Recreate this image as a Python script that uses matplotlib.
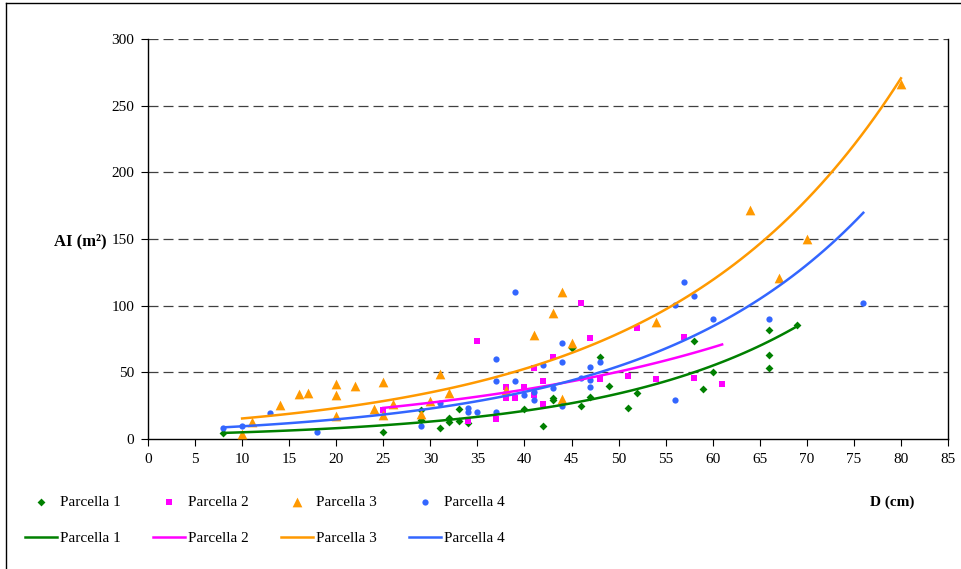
import matplotlib
matplotlib.use("Agg")
import matplotlib.pyplot as plt
import numpy as np
from matplotlib.lines import Line2D

plt.rcParams['font.family'] = ['Liberation Serif', 'DejaVu Serif']

# Parcella 1 (D cm, AI m2)
d1 = [8, 25, 29, 29, 31, 32, 32, 33, 33, 34, 40, 42, 43, 43, 45, 46, 47, 48, 49, 51, 52, 58, 59, 60, 66, 66, 66, 69]
ai1 = [4.7, 5.5, 22, 14, 8.5, 16, 12.5, 22.5, 13.3, 12.2, 22.7, 9.7, 30.5, 29, 68, 24.7, 31.3, 61.7, 40, 23, 34.2, 73.5, 37.2, 50.5, 81.7, 63, 53.5, 85.5]

# Parcella 2
d2 = [25, 34, 35, 37, 38, 38, 39, 40, 41, 41, 42, 42, 43, 46, 47, 48, 51, 52, 54, 57, 58, 61]
ai2 = [21.7, 13.7, 73.7, 14.7, 39.2, 31, 31, 39.2, 33, 53, 43.5, 26, 61.2, 102, 75.5, 45.2, 47.2, 83, 45.2, 76.8, 46, 41.2]

# Parcella 3
d3 = [10, 11, 14, 16, 17, 20, 20, 20, 22, 24, 25, 25, 26, 29, 30, 31, 32, 38, 41, 43, 44, 44, 45, 54, 64, 67, 70, 80]
ai3 = [3.7, 13, 25.5, 33.5, 34.2, 41, 33, 17.2, 39.7, 22.5, 43, 18, 26, 18.5, 28.5, 48.5, 34.2, 36.7, 78, 94.2, 110, 30, 71.7, 87.5, 172, 121, 150, 266]

# Parcella 4
d4 = [8, 10, 13, 18, 29, 31, 34, 34, 35, 37, 37, 37, 39, 39, 40, 41, 41, 42, 43, 44, 44, 44, 46, 47, 47, 47, 48, 56, 56, 57, 58, 60, 66, 76]
ai4 = [8, 10, 19.2, 5.2, 10, 27, 23.5, 20, 20.5, 59.7, 43.5, 20.5, 110, 43.5, 33, 29, 35, 55.5, 38, 71.7, 57.5, 25, 45.5, 53.7, 44, 39.2, 57.5, 100.5, 29.2, 117.5, 107, 90, 90, 102]

labels = ['Parcella 1', 'Parcella 2', 'Parcella 3', 'Parcella 4']
colori = ['#008000', '#ff00ff', '#ff9900', '#3366ff']
marker = ['D', 's', '^', 'o']
msize = [4, 4.5, 7, 4.5]

fig = plt.figure(figsize=(9.61, 5.69), dpi=100)
ax = fig.add_axes([148/961, 1-439/569, 800/961, 400/569])

handles = []
for d, ai, c, m, ms, lab in zip([d1, d2, d3, d4], [ai1, ai2, ai3, ai4], colori, marker, msize, labels):
    d = np.array(d, float)
    ai = np.array(ai, float)
    # trendline esponenziale (come excel): fit di ln(AI)
    b, lna = np.polyfit(d, np.log(ai), 1)
    xx = np.linspace(d.min(), d.max(), 100)
    sc = ax.scatter(d, ai, marker=m, s=ms**2, color=c, linewidths=0, zorder=3, label=lab)
    ln, = ax.plot(xx, np.exp(lna)*np.exp(b*xx), color=c, lw=1.8, zorder=4, label=lab)
    handles += [sc, ln]

ax.set_xlim(0, 85)
ax.set_ylim(0, 300)
ax.set_xticks(range(0, 86, 5))
ax.set_yticks(range(0, 301, 50))
ax.tick_params(direction='out', length=5, width=0.8, labelsize=11, colors='black')
ax.tick_params(axis='x', pad=5)
ax.tick_params(axis='y', pad=5)
for yv in range(50, 301, 50):
    ax.axhline(yv, color='#404040', lw=0.9, ls=(0, (8, 4)), zorder=1)
ax.spines['top'].set_visible(False)
for s in ['left', 'right', 'bottom']:
    ax.spines[s].set_linewidth(1.0)

fig.text(107/961, 1-241/569, 'AI (m²)', ha='right', va='center', fontsize=12, fontweight='bold')
fig.text(892/961, 1-502/569, 'D (cm)', ha='center', va='center', fontsize=11, fontweight='bold')

leg = fig.legend(handles, [h.get_label() for h in handles], ncol=4, loc='upper left',
                 bbox_to_anchor=(25/961, 1-495/569), frameon=False, fontsize=11,
                 handlelength=2.1, handletextpad=0.2, columnspacing=2.1, labelspacing=1.5,
                 borderaxespad=0, borderpad=0)

# cornice esterna
fig.add_artist(Line2D([6/961, 6/961], [0, 1-3/569], color='black', lw=1, transform=fig.transFigure))
fig.add_artist(Line2D([6/961, 1], [1-3/569, 1-3/569], color='black', lw=1, transform=fig.transFigure))

fig.savefig('out.png', dpi=100)
